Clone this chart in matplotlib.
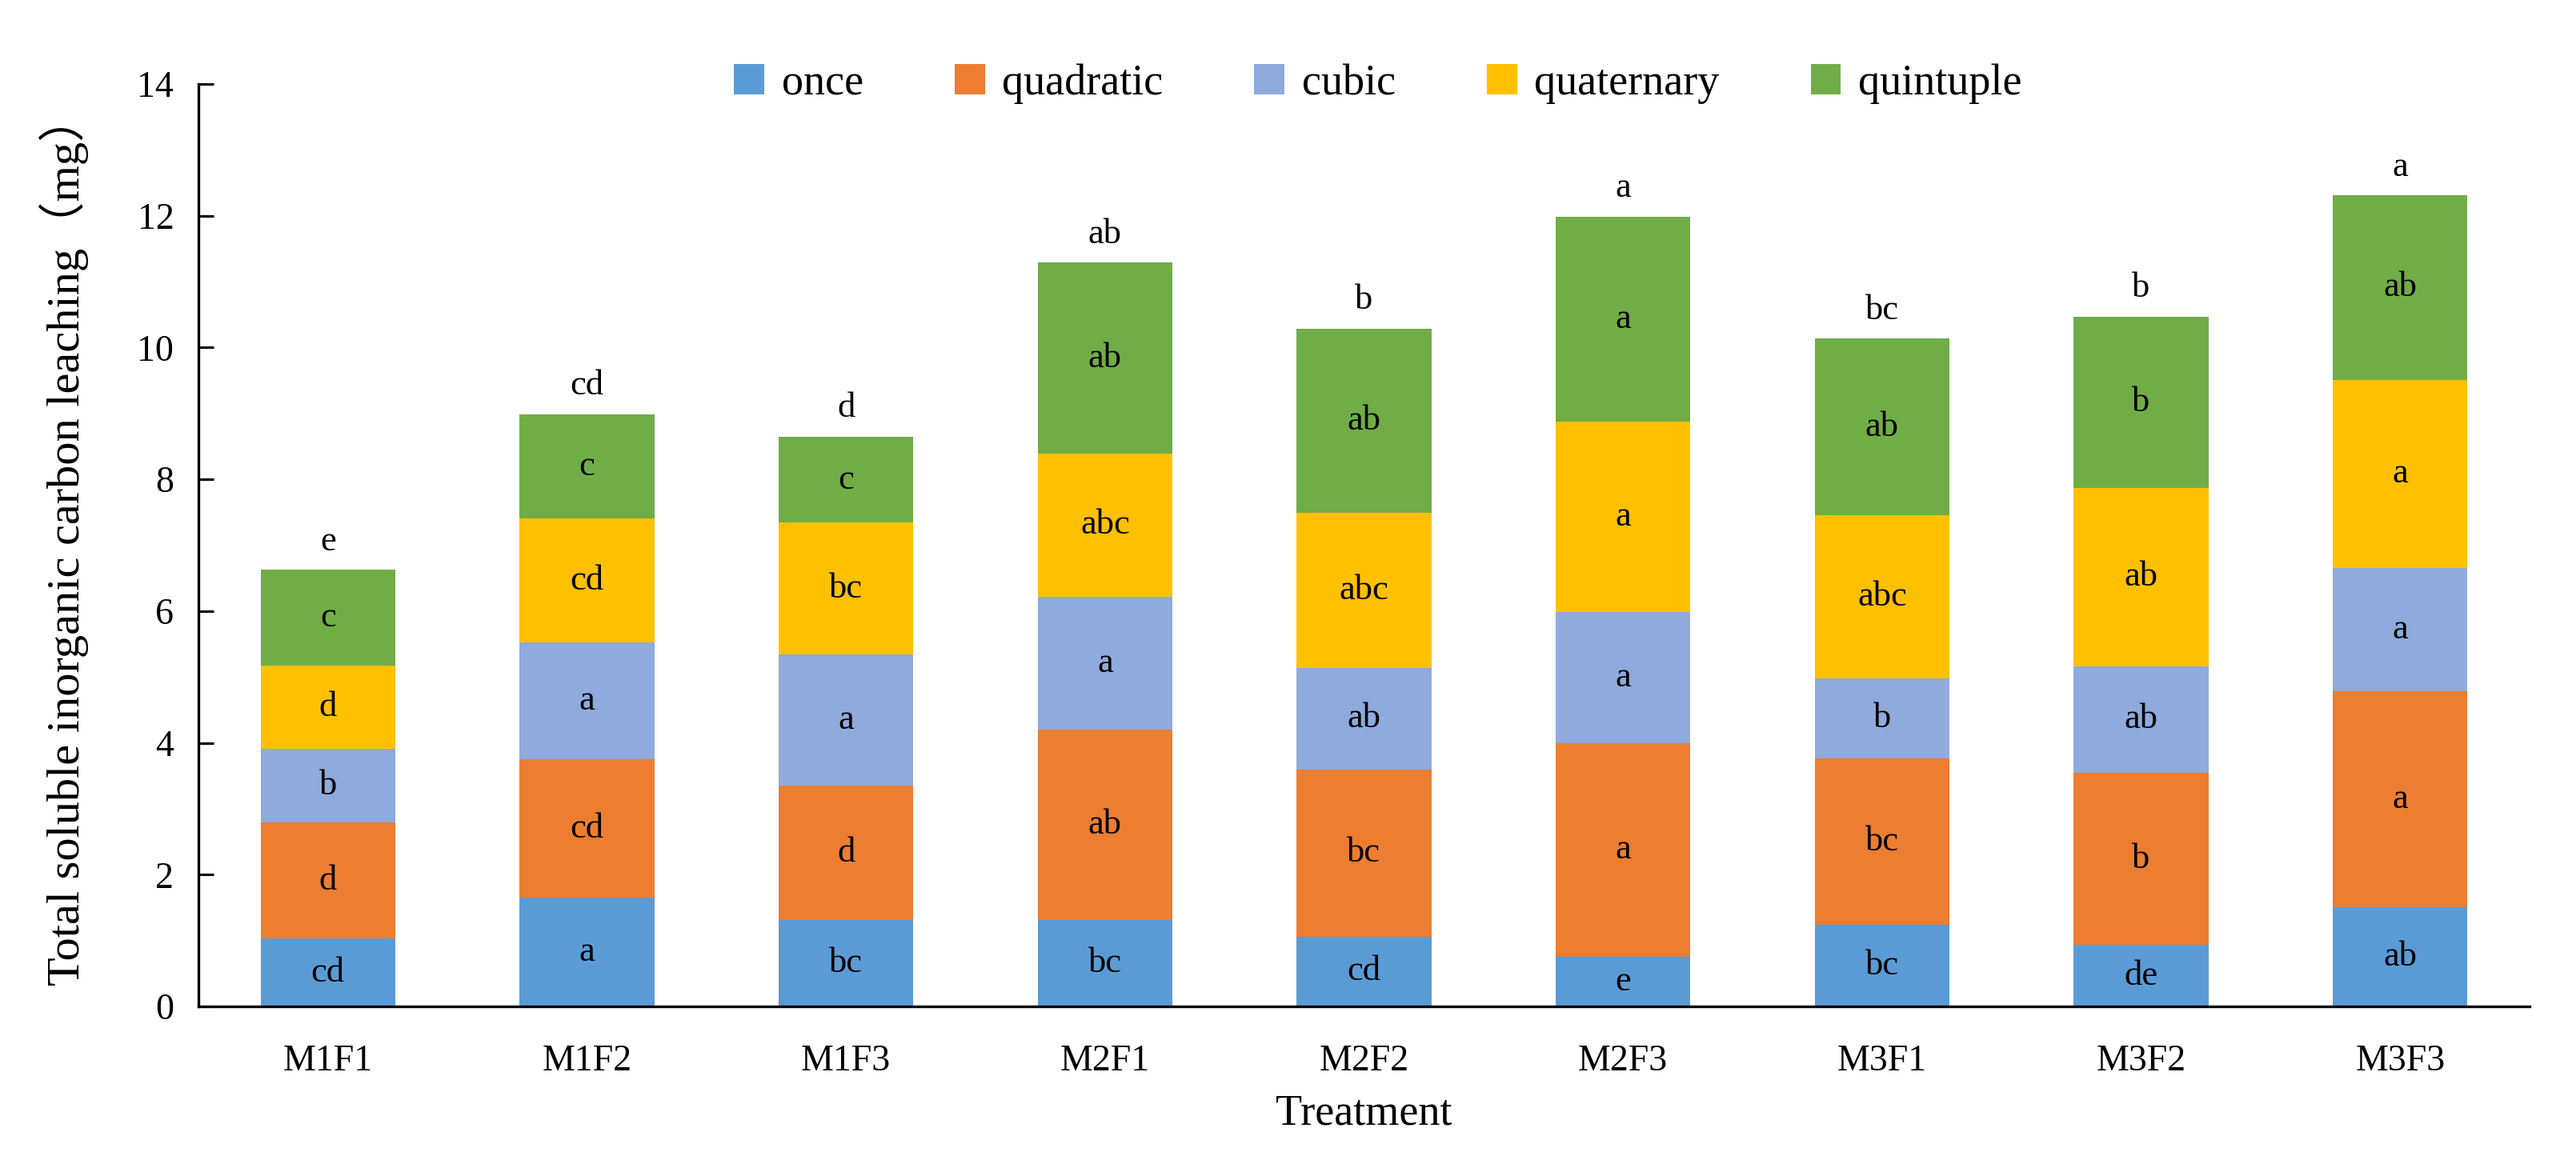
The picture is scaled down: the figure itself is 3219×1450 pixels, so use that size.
import matplotlib
matplotlib.use("Agg")
import matplotlib.pyplot as plt
import numpy as np

treatments = ["M1F1", "M1F2", "M1F3", "M2F1", "M2F2", "M2F3", "M3F1", "M3F2", "M3F3"]
series_names = ["once", "quadratic", "cubic", "quaternary", "quintuple"]

# per-leaching amounts (mg)
once = [1.03, 1.65, 1.31, 1.31, 1.06, 0.75, 1.24, 0.93, 1.51]
quadratic = [1.76, 2.10, 2.04, 2.89, 2.54, 3.25, 2.53, 2.62, 3.27]
cubic = [1.12, 1.77, 1.99, 2.02, 1.54, 1.99, 1.21, 1.61, 1.88]
quaternary = [1.26, 1.89, 2.00, 2.17, 2.35, 2.89, 2.47, 2.71, 2.85]
quintuple = [1.46, 1.58, 1.31, 2.90, 2.80, 3.11, 2.69, 2.60, 2.80]

once_letters = ["cd", "a", "bc", "bc", "cd", "e", "bc", "de", "ab"]
quadratic_letters = ["d", "cd", "d", "ab", "bc", "a", "bc", "b", "a"]
cubic_letters = ["b", "a", "a", "a", "ab", "a", "b", "ab", "a"]
quaternary_letters = ["d", "cd", "bc", "abc", "abc", "a", "abc", "ab", "a"]
quintuple_letters = ["c", "c", "c", "ab", "ab", "a", "ab", "b", "ab"]
total_letters = ["e", "cd", "d", "ab", "b", "a", "bc", "b", "a"]

colors = ["#5B9BD5", "#ED7D31", "#8FAADC", "#FFC000", "#70AD47"]

plt.rcParams['font.family'] = ['Liberation Serif', 'Noto Sans CJK SC']


def main():
    fig, ax = plt.subplots(figsize=(32.19, 14.5), dpi=100)
    fig.subplots_adjust(left=0.077, right=0.982, bottom=0.1324, top=0.9276)

    x = np.arange(len(treatments))
    data = [once, quadratic, cubic, quaternary, quintuple]
    letters = [once_letters, quadratic_letters, cubic_letters,
               quaternary_letters, quintuple_letters]
    bottom = np.zeros(len(treatments))
    for vals, lets, name, col in zip(data, letters, series_names, colors):
        vals = np.array(vals)
        ax.bar(x, vals, width=0.52, bottom=bottom, color=col, label=name)
        for xi, b, v, t in zip(x, bottom, vals, lets):
            ax.text(xi, b + v / 2, t, ha='center', va='center', fontsize=32)
        bottom = bottom + vals

    for xi, top, t in zip(x, bottom, total_letters):
        ax.annotate(t, (xi, top), xytext=(0, 11), textcoords='offset points',
                    ha='center', va='bottom', fontsize=32)

    ax.set_xlim(-0.5, len(treatments) - 0.5)
    ax.set_ylim(0, 14)
    ax.set_yticks(range(0, 15, 2))
    ax.set_xticks(x)
    ax.set_xticklabels(treatments)

    for s in ['top', 'right']:
        ax.spines[s].set_visible(False)
    for s in ['left', 'bottom']:
        ax.spines[s].set_linewidth(2.4)

    ax.tick_params(axis='y', direction='in', length=14, width=2.2,
                   labelsize=33, pad=22)
    ax.tick_params(axis='x', length=0, labelsize=33, pad=34)

    ax.set_xlabel('Treatment', fontsize=39, labelpad=14)
    ax.set_ylabel('Total soluble inorganic carbon leaching（mg）', fontsize=42)
    ax.yaxis.set_label_coords(-0.047, 0.505)

    ax.legend(loc='center', bbox_to_anchor=(0.506, 1.0), ncol=5, frameon=False,
              fontsize=39, handlelength=0.7, handleheight=0.7,
              handletextpad=0.4, columnspacing=2.1)

    plt.savefig('out.png', dpi=100)


if __name__ == "__main__":
    main()
